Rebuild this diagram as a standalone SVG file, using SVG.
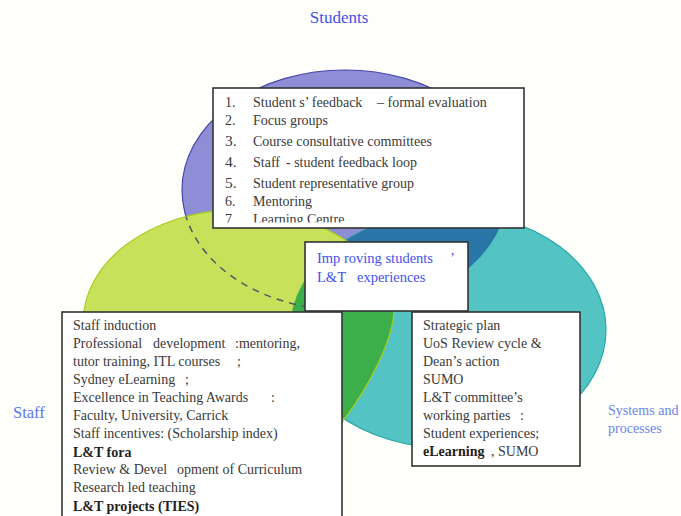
<svg xmlns="http://www.w3.org/2000/svg" width="681" height="516" viewBox="0 0 681 516">
<style>
.box{fill:#ffffff;stroke:#333333;stroke-width:1.6}
.t{font-family:"Liberation Serif","Times New Roman",serif;font-size:14px;fill:#3a3a3a}
.b{font-weight:bold;fill:#222}
.n{font-family:"Liberation Serif","Times New Roman",serif;font-size:14px;fill:#3a3a3a}
.big{font-size:15.5px}
.blue{font-family:"Liberation Serif","Times New Roman",serif;fill:#3f52ee}
.lb{font-family:"Liberation Serif","Times New Roman",serif;fill:#6a86ee}
</style>
<defs>
<path id="greenShape" d="M83,323 A156,113 0 0 1 394,310 C393,340 370,385 343,421 C310,462 140,470 92,400 Q80,365 83,323 Z"/>
<clipPath id="tealClip"><ellipse cx="448" cy="330" rx="158" ry="118"/></clipPath>
<clipPath id="greenClip"><use href="#greenShape"/></clipPath>
<clipPath id="listClip"><rect x="213" y="88" width="311" height="134.5"/></clipPath>
</defs>
<rect x="0" y="0" width="681" height="516" fill="#fefefb"/>

<g id="circles">
<ellipse id="students-circle" cx="345" cy="190" rx="163" ry="120" fill="#8e8ed6" stroke="#4646aa" stroke-width="1.2"/>
<ellipse id="systems-circle" cx="448" cy="330" rx="158" ry="118" fill="#54c3c3" stroke="#22a8a8" stroke-width="1.2"/>
<ellipse cx="345" cy="190" rx="163" ry="120" fill="#2a76a8" clip-path="url(#tealClip)"/>
<use id="staff-circle" href="#greenShape" fill="#c8e15a"/>
<use href="#greenShape" fill="#3caf4a" clip-path="url(#tealClip)"/>
<use href="#greenShape" fill="none" stroke="#a8cc1c" stroke-width="1.2"/>
<ellipse cx="345" cy="190" rx="163" ry="120" fill="none" stroke="#555566" stroke-width="1.5" stroke-dasharray="7 6" clip-path="url(#greenClip)"/>
</g>

<g id="connectors"></g>

<text class="blue" x="339" y="23" font-size="17" text-anchor="middle">Students</text>
<text class="blue" x="13" y="418" font-size="16.5" style="fill:#5b78f0">Staff</text>
<text class="lb" x="608" y="415" font-size="14">Systems and</text>
<text class="lb" x="608" y="433" font-size="14">processes</text>

<g id="students-box">
<rect class="box" x="213" y="88" width="311" height="140"/>
<g clip-path="url(#listClip)">
<text class="n" x="225" y="107">1.</text>
<text class="t" y="107"><tspan x="253">Student s’ feedback </tspan><tspan x="377">– formal evaluation</tspan></text>
<text class="n" x="225" y="125">2.</text>
<text class="t" x="253" y="125">Focus groups</text>
<text class="n big" x="225" y="146">3.</text>
<text class="t" x="253" y="146">Course consultative committees</text>
<text class="n big" x="225" y="167">4.</text>
<text class="t" y="167"><tspan x="253">Staff </tspan><tspan x="286">- student feedback loop</tspan></text>
<text class="n big" x="225" y="188">5.</text>
<text class="t" x="253" y="188">Student representative group</text>
<text class="n" x="225" y="206">6.</text>
<text class="t" x="253" y="206">Mentoring</text>
<text class="n" x="225" y="224">7</text>
<text class="t" x="253" y="224">Learning Centre</text>
</g>
</g>

<g id="improving-box">
<rect class="box" x="305" y="242" width="163" height="69"/>
<text class="blue" font-size="14.5" y="263"><tspan x="317">Imp roving students </tspan><tspan x="450">’</tspan></text>
<text class="blue" font-size="14.5" y="282"><tspan x="317">L&amp;T </tspan><tspan x="357">experiences</tspan></text>
</g>

<g id="staff-box">
<rect class="box" x="62" y="312" width="280" height="212"/>
<text class="t" x="73" y="330">Staff induction</text>
<text class="t" y="348"><tspan x="73">Professional </tspan><tspan x="153">development </tspan><tspan x="235">:mentoring,</tspan></text>
<text class="t" y="366"><tspan x="73">tutor training, ITL courses </tspan><tspan x="237">;</tspan></text>
<text class="t" y="384"><tspan x="73">Sydney eLearning </tspan><tspan x="185">;</tspan></text>
<text class="t" y="402"><tspan x="73">Excellence in Teaching Awards </tspan><tspan x="271">:</tspan></text>
<text class="t" x="73" y="420">Faculty, University, Carrick</text>
<text class="t" x="73" y="438">Staff  incentives: (Scholarship index)</text>
<text class="t b" x="73" y="457">L&amp;T fora</text>
<text class="t" y="474"><tspan x="73">Review &amp; Devel </tspan><tspan x="177">opment of Curriculum</tspan></text>
<text class="t" x="73" y="492">Research led teaching</text>
<text class="t b" x="73" y="511">L&amp;T projects (TIES)</text>
</g>

<g id="systems-box">
<rect class="box" x="412" y="312" width="168" height="154"/>
<text class="t" x="423" y="330">Strategic plan</text>
<text class="t" x="423" y="348">UoS Review cycle &amp;</text>
<text class="t" x="423" y="366">Dean’s action</text>
<text class="t" x="423" y="384">SUMO</text>
<text class="t" x="423" y="402">L&amp;T committee’s</text>
<text class="t" y="420"><tspan x="423">working parties </tspan><tspan x="520">:</tspan></text>
<text class="t" x="423" y="438">Student experiences;</text>
<text class="t" y="456"><tspan x="423" font-weight="bold" fill="#222">eLearning </tspan><tspan x="491">, SUMO</tspan></text>
</g>
</svg>
